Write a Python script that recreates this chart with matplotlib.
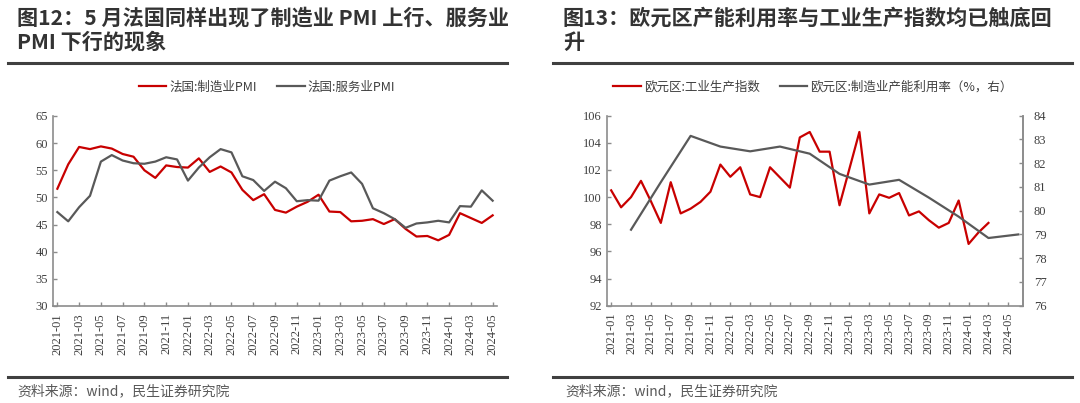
import matplotlib
matplotlib.use("Agg")
import matplotlib.pyplot as plt
from matplotlib.lines import Line2D
import numpy as np

SERIF = "Liberation Serif"
CJK = "Noto Sans CJK SC"
plt.rcParams['font.family'] = 'serif'
plt.rcParams['font.serif'] = [SERIF, 'DejaVu Serif']

# ---------------- data ----------------
months = [f"{y}-{m:02d}" for y in (2021, 2022, 2023, 2024) for m in range(1, 13)][:41]  # 2021-01 .. 2024-05

fr_mfg_pmi = [51.6, 56.1, 59.3, 58.9, 59.4, 59.0, 58.0, 57.5, 55.0, 53.6, 55.9, 55.6,
              55.5, 57.2, 54.7, 55.7, 54.6, 51.4, 49.5, 50.6, 47.7, 47.2, 48.3, 49.2,
              50.5, 47.4, 47.3, 45.6, 45.7, 46.0, 45.1, 46.0, 44.2, 42.8, 42.9, 42.1,
              43.1, 47.1, 46.2, 45.3, 46.7]
fr_srv_pmi = [47.3, 45.6, 48.2, 50.3, 56.6, 57.8, 56.8, 56.3, 56.2, 56.6, 57.4, 57.0,
              53.1, 55.5, 57.4, 58.9, 58.3, 53.9, 53.2, 51.2, 52.9, 51.7, 49.3, 49.5,
              49.4, 53.1, 53.9, 54.6, 52.5, 48.0, 47.1, 46.0, 44.4, 45.2, 45.4, 45.7,
              45.4, 48.4, 48.3, 51.3, 49.4]

ez_ip_index = [100.5, 99.25, 100.0, 101.2, 99.7, 98.1, 101.1, 98.8, 99.15, 99.65, 100.4, 102.4,
               101.5, 102.2, 100.2, 100.0, 102.2, 101.45, 100.7, 104.4, 104.8, 103.35, 103.35, 99.4,
               102.1, 104.8, 98.8, 100.2, 99.95, 100.3, 98.65, 98.95, 98.3, 97.75, 98.1, 99.75,
               96.55, 97.4, 98.1]  # 2021-01 .. 2024-03
ez_cu_months = ["2021-03", "2021-06", "2021-09", "2021-12", "2022-03", "2022-06", "2022-09",
                "2022-12", "2023-03", "2023-06", "2023-09", "2023-12", "2024-03", "2024-06"]
ez_cu = [79.2, 81.2, 83.15, 82.7, 82.5, 82.7, 82.4, 81.55, 81.1, 81.3, 80.55, 79.75, 78.85, 79.0]

left_title = "图12：5 月法国同样出现了制造业 PMI 上行、服务业\nPMI 下行的现象"
right_title = "图13：欧元区产能利用率与工业生产指数均已触底回\n升"
source = "资料来源：wind，民生证券研究院"
lbl_mfg = "法国:制造业PMI"
lbl_srv = "法国:服务业PMI"
lbl_ip = "欧元区:工业生产指数"
lbl_cu = "欧元区:制造业产能利用率（%，右）"

# ---------------- style ----------------
RED = "#C80000"
GRAY = "#595959"
SPINE = "#8C8C8C"
TXT = "#3F3F3F"
W, H = 1080, 403

fig = plt.figure(figsize=(W / 100, H / 100), dpi=100)

def fx(px):
    return px / W

def fy(py):
    return 1 - py / H

def style_axes(ax, right=False):
    ax.spines["top"].set_visible(False)
    if not right:
        ax.spines["right"].set_visible(False)
    for s in ax.spines.values():
        s.set_color(SPINE)
        s.set_linewidth(1.2)
    ax.tick_params(axis="both", direction="in", length=3, width=1, color=SPINE,
                   labelcolor=TXT, labelsize=9)

x_all = np.arange(len(months))
tick_pos = x_all[::2]
tick_lab = months[::2]

# ---------------- left chart ----------------
axL = fig.add_axes([fx(53), fy(306), fx(497 - 53), (306 - 116) / H])
axL.plot(x_all, fr_mfg_pmi, color=RED, lw=1.6)
axL.plot(x_all, fr_srv_pmi, color=GRAY, lw=1.6)
axL.set_ylim(30, 65)
axL.set_yticks(np.arange(30, 66, 5))
axL.set_xlim(-0.4, 40.4)
axL.set_xticks(tick_pos)
axL.set_xticklabels(tick_lab, rotation=90)
style_axes(axL)
axL.tick_params(axis="x", pad=5)

# ---------------- right chart ----------------
axR = fig.add_axes([fx(606.7), fy(305.7), fx(1022.7 - 606.7), (305.7 - 115.7) / H])
axR.plot(np.arange(len(ez_ip_index)), ez_ip_index, color=RED, lw=1.6)
axR.set_ylim(92, 106)
axR.set_yticks(np.arange(92, 107, 2))
axR.set_xticks(tick_pos)
axR.set_xticklabels(tick_lab, rotation=90)
style_axes(axR, right=True)
axR.tick_params(axis="x", pad=5)

axR2 = axR.twinx()
cu_x = [months.index(m) if m in months else 41 for m in ez_cu_months]
axR2.plot(cu_x, ez_cu, color=GRAY, lw=1.6)
axR2.set_ylim(76, 84)
axR2.set_yticks(np.arange(76, 85, 1))
for s in ("top", "left", "bottom"):
    axR2.spines[s].set_visible(False)
axR2.spines["right"].set_color(SPINE)
axR2.spines["right"].set_linewidth(1.2)
axR2.tick_params(axis="y", direction="in", length=3, width=1, color=SPINE,
                 labelcolor=TXT, labelsize=9, pad=8)
axR.set_xlim(-0.45, 41.45)

# ---------------- legends ----------------
def add_legend(handles, labels, cx, cy):
    fig.legend(handles, labels, loc="center", bbox_to_anchor=(cx, cy), ncol=2,
               frameon=False, prop={"family": CJK, "size": 9}, handlelength=2.2,
               handletextpad=0.25, columnspacing=1.6, labelcolor=TXT)

add_legend([Line2D([], [], color=RED, lw=1.6), Line2D([], [], color=GRAY, lw=1.6)],
           [lbl_mfg, lbl_srv], fx(267), fy(87))
add_legend([Line2D([], [], color=RED, lw=1.6), Line2D([], [], color=GRAY, lw=1.6)],
           [lbl_ip, lbl_cu], fx(813), fy(87))

# ---------------- titles, rules, sources ----------------
fig.text(fx(17), fy(8), left_title, ha="left", va="top", fontsize=15.2, family=CJK,
         fontweight="bold", color="#333333", linespacing=1.15)
fig.text(fx(563), fy(8), right_title, ha="left", va="top", fontsize=15.2, family=CJK,
         fontweight="bold", color="#333333", linespacing=1.15)

for x0, x1 in ((8, 507), (553, 1072)):
    fig.add_artist(Line2D([fx(x0), fx(x1)], [fy(63), fy(63)], color="#404040", lw=2.2))
    fig.add_artist(Line2D([fx(x0), fx(x1)], [fy(377), fy(377)], color="#404040", lw=2.2))

fig.text(fx(17), fy(391), source, ha="left", va="center", fontsize=10, family=CJK, color="#595959")
fig.text(fx(565), fy(391), source, ha="left", va="center", fontsize=10, family=CJK, color="#595959")

fig.savefig("out.png", dpi=100)
